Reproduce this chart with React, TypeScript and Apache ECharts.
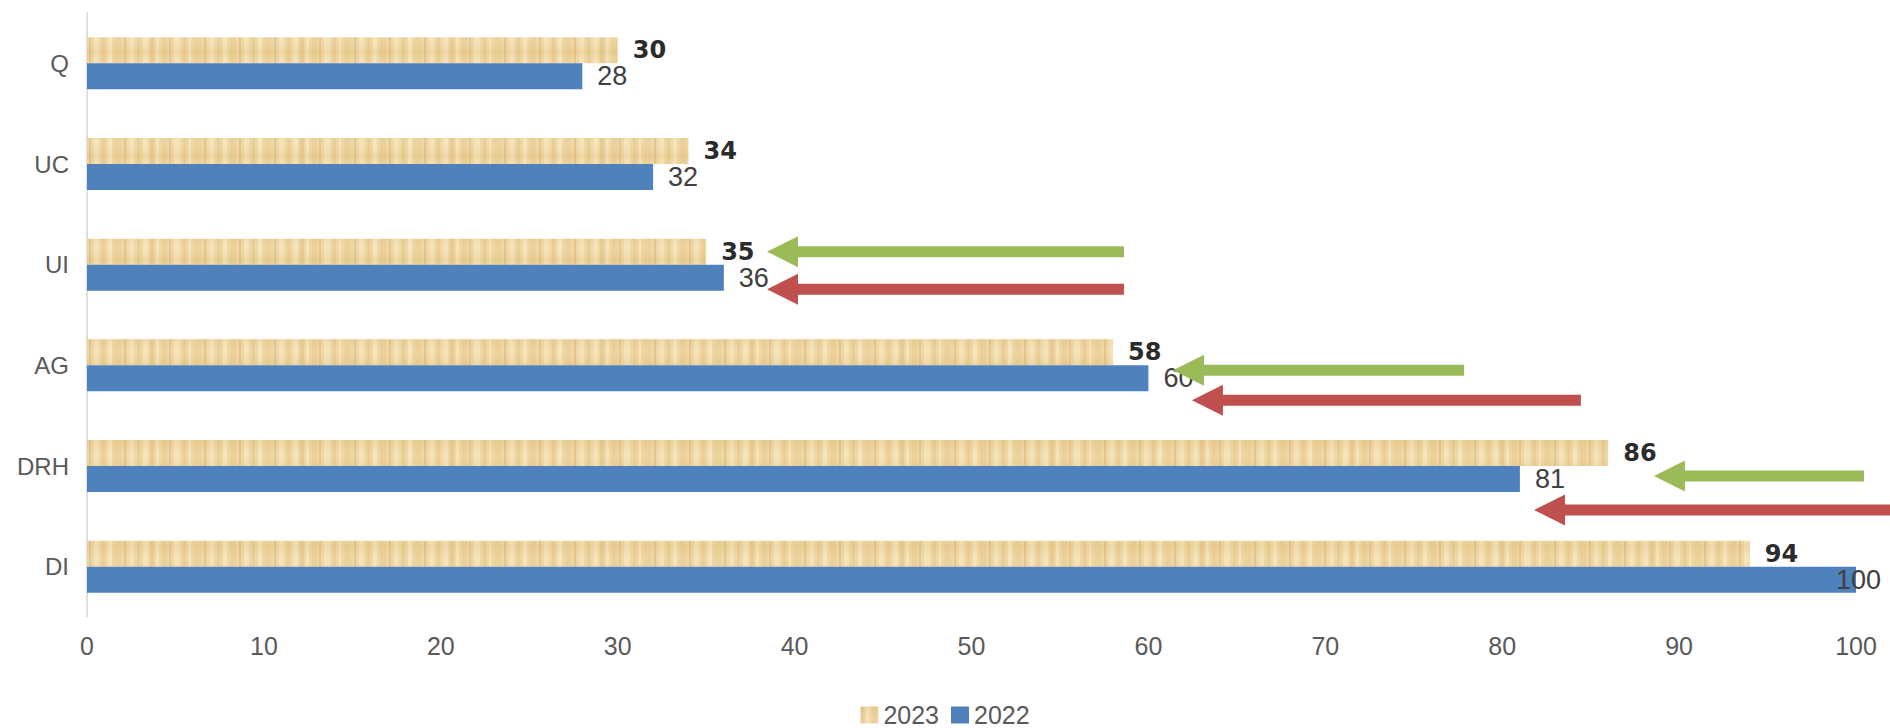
import React, { useEffect, useRef } from "react";
import * as echarts from "echarts";

const categories = ["Q", "UC", "UI", "AG", "DRH", "DI"];
const values2023 = [30, 34, 35, 58, 86, 94];
const values2022 = [28, 32, 36, 60, 81, 100];
const seriesNames = ["2023", "2022"];
const xMin = 0;
const xMax = 100;
const xInterval = 10;

// annotation arrows: category, pixel offset from category centre, tip value, tail value
const arrowCats = ["UI", "UI", "AG", "AG", "DRH", "DRH"];
const arrowDy = [-13, 24.5, 5, 35, 10, 44];
const arrowTip = [38.44, 38.44, 61.39, 62.46, 88.58, 81.8];
const arrowTail = [58.62, 58.62, 77.84, 84.45, 100.45, 102.8];
const arrowKind = ["green", "red", "green", "red", "green", "red"];

const GREEN = "#9BBB59";
const RED = "#C0504D";
const BLUE = "#4F81BD";

function makeTexture(): HTMLCanvasElement {
  const c = document.createElement("canvas");
  c.width = 150;
  c.height = 26;
  const ctx = c.getContext("2d")!;
  ctx.fillStyle = "#EDD39E";
  ctx.fillRect(0, 0, c.width, c.height);
  const streaks: [number, number, string][] = [
    [0, 4, "rgba(214,176,108,0.35)"],
    [6, 3, "rgba(255,244,212,0.45)"],
    [12, 5, "rgba(220,183,115,0.28)"],
    [19, 2, "rgba(200,160,92,0.35)"],
    [24, 6, "rgba(255,246,218,0.40)"],
    [33, 3, "rgba(214,176,108,0.32)"],
    [39, 2, "rgba(255,248,222,0.45)"],
    [44, 7, "rgba(222,186,118,0.25)"],
    [54, 2, "rgba(196,154,86,0.35)"],
    [59, 5, "rgba(255,244,212,0.40)"],
    [67, 3, "rgba(214,176,108,0.32)"],
    [73, 4, "rgba(255,246,218,0.45)"],
    [80, 6, "rgba(220,183,115,0.28)"],
    [89, 2, "rgba(196,154,86,0.35)"],
    [94, 5, "rgba(255,244,212,0.40)"],
    [102, 3, "rgba(214,176,108,0.32)"],
    [108, 4, "rgba(255,248,222,0.45)"],
    [115, 6, "rgba(222,186,118,0.25)"],
    [124, 2, "rgba(196,154,86,0.35)"],
    [129, 5, "rgba(255,244,212,0.40)"],
    [137, 3, "rgba(214,176,108,0.32)"],
    [143, 5, "rgba(255,246,218,0.42)"],
  ];
  for (const [x, w, col] of streaks) {
    ctx.fillStyle = col;
    ctx.fillRect(x, 0, w, c.height);
  }
  const g = ctx.createLinearGradient(0, 0, 0, c.height);
  g.addColorStop(0, "rgba(225,190,120,0.25)");
  g.addColorStop(0.5, "rgba(255,250,230,0.12)");
  g.addColorStop(1, "rgba(225,190,120,0.25)");
  ctx.fillStyle = g;
  ctx.fillRect(0, 0, c.width, c.height);
  return c;
}

export default function App() {
  const ref = useRef<HTMLDivElement>(null);

  useEffect(() => {
    if (!ref.current) return;
    const chart = echarts.init(ref.current, null, { renderer: "svg" });
    const tex = makeTexture();
    const texColor: any = {
      image: tex,
      repeat: "repeat",
      imageWidth: tex.width,
      imageHeight: tex.height,
    };
    const maxVal = Math.max(...values2022);

    chart.setOption({
      animation: false,
      backgroundColor: "#ffffff",
      grid: { left: 87, right: 34, top: 13, bottom: 111, outerBoundsMode: "none" },
      legend: {
        data: seriesNames,
        left: "center",
        top: 702,
        padding: 0,
        itemWidth: 18,
        itemHeight: 17,
        itemGap: 12,
        icon: "rect",
        textStyle: {
          fontFamily: "Liberation Sans",
          fontSize: 25,
          color: "#595959",
          lineHeight: 26,
        },
      },
      xAxis: {
        type: "value",
        min: xMin,
        max: xMax,
        interval: xInterval,
        axisLine: { show: false },
        axisTick: { show: false },
        splitLine: { show: false },
        axisLabel: {
          margin: 16,
          fontFamily: "Liberation Sans",
          fontSize: 25,
          color: "#595959",
        },
      },
      yAxis: {
        type: "category",
        data: categories,
        inverse: true,
        axisLine: { show: true, lineStyle: { color: "#D4D4D4", width: 1.5 } },
        axisTick: { show: false },
        axisLabel: {
          margin: 18,
          fontFamily: "Liberation Sans",
          fontSize: 24,
          color: "#595959",
        },
      },
      series: [
        {
          name: seriesNames[0],
          type: "bar",
          data: values2023,
          barWidth: 26,
          barGap: "0%",
          itemStyle: { color: texColor },
          label: {
            show: true,
            position: "right",
            distance: 15,
            fontFamily: "DejaVu Sans",
            fontWeight: "bold",
            fontSize: 24,
            color: "#2b2b2b",
          },
        },
        {
          name: seriesNames[1],
          type: "bar",
          data: values2022.map((v) =>
            v === maxVal ? { value: v, label: { offset: [-35, 0] } } : v
          ),
          barWidth: 26,
          barGap: "0%",
          itemStyle: { color: BLUE },
          label: {
            show: true,
            position: "right",
            distance: 15,
            fontFamily: "Liberation Sans",
            fontSize: 27,
            color: "#404040",
          },
        },
      ],
    });

    const arrows = arrowCats.map((cat, i) => {
      const tip = chart.convertToPixel({ gridIndex: 0 }, [arrowTip[i], cat]) as number[];
      const tail = chart.convertToPixel({ gridIndex: 0 }, [arrowTail[i], cat]) as number[];
      const cy = tip[1] + arrowDy[i];
      const tx = tip[0];
      const ex = tail[0];
      const hl = 31;
      const hh = 15.5;
      const sh = 5.5;
      return {
        type: "polygon",
        z: 100,
        shape: {
          points: [
            [tx, cy],
            [tx + hl, cy - hh],
            [tx + hl, cy - sh],
            [ex, cy - sh],
            [ex, cy + sh],
            [tx + hl, cy + sh],
            [tx + hl, cy + hh],
          ],
        },
        style: { fill: arrowKind[i] === "green" ? GREEN : RED },
      };
    });
    chart.setOption({ graphic: arrows });

    return () => chart.dispose();
  }, []);

  return (
    <div
      ref={ref}
      style={{ position: "fixed", left: 0, top: 0, width: 1890, height: 728 }}
    />
  );
}
